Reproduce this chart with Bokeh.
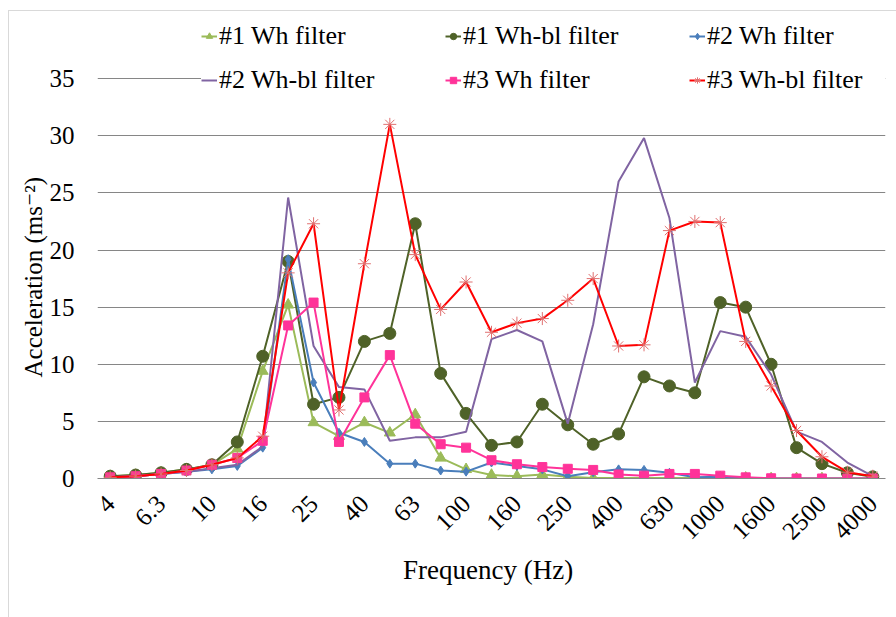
from bokeh.plotting import figure
from bokeh.models import Range1d, FixedTicker, Legend, LegendItem, Title
from bokeh.embed import file_html
from bokeh.resources import INLINE

freqs = ["4", "5", "6.3", "8", "10", "12.5", "16", "20", "25", "31.5", "40", "50", "63", "80",
         "100", "125", "160", "200", "250", "315", "400", "500", "630", "800", "1000", "1250",
         "1600", "2000", "2500", "3150", "4000"]

s1_wh = [0.2, 0.3, 0.5, 0.8, 1.2, 2.6, 9.4, 15.2, 4.9, 3.7, 4.9, 4.0, 5.6, 1.8, 0.8, 0.3, 0.2,
         0.35, 0.15, 0.05, 0.05, 0.05, 0.05, 0.05, 0.1, 0.05, 0.0, 0.0, 0.0, 0.0, 0.0]
s1_whbl = [0.2, 0.3, 0.5, 0.8, 1.2, 3.2, 10.7, 19.0, 6.5, 7.1, 12.0, 12.7, 22.3, 9.2, 5.7, 2.9,
           3.2, 6.5, 4.7, 3.0, 3.9, 8.9, 8.1, 7.5, 15.4, 15.0, 10.0, 2.7, 1.3, 0.5, 0.15]
s2_wh = [0.1, 0.2, 0.4, 0.6, 0.8, 1.1, 2.7, 19.2, 8.4, 4.0, 3.2, 1.3, 1.3, 0.7, 0.6, 1.4, 1.1,
         0.8, 0.2, 0.55, 0.8, 0.75, 0.5, 0.1, 0.15, 0.05, 0.02, 0.0, 0.0, 0.0, 0.0]
s2_whbl = [0.1, 0.2, 0.4, 0.6, 0.9, 1.2, 2.8, 24.6, 11.6, 8.0, 7.8, 3.3, 3.6, 3.6, 4.1, 12.2,
           13.0, 12.0, 4.8, 13.5, 26.0, 29.8, 22.8, 8.4, 12.9, 12.4, 9.1, 4.1, 3.2, 1.4, 0.2]
s3_wh = [0.1, 0.2, 0.4, 0.7, 1.2, 1.8, 3.3, 13.4, 15.4, 3.2, 7.1, 10.8, 4.8, 3.0, 2.7, 1.6, 1.25,
         1.0, 0.85, 0.75, 0.35, 0.25, 0.4, 0.4, 0.25, 0.1, 0.02, 0.0, 0.0, 0.0, 0.0]
s3_whbl = [0.1, 0.2, 0.4, 0.7, 1.2, 1.8, 3.7, 18.0, 22.3, 6.0, 18.8, 31.0, 19.6, 14.8, 17.2, 12.8,
           13.6, 14.0, 15.6, 17.5, 11.6, 11.7, 21.7, 22.5, 22.4, 12.0, 8.1, 4.2, 1.9, 0.55, 0.2]

y_ticks = [0, 5, 10, 15, 20, 25, 30, 35]
x_title = "Frequency  (Hz)"
y_title = "Acceleration  (ms\u207b\u00b2)"

FONT = "Liberation Serif, DejaVu Serif, serif"

pos = list(range(len(freqs)))
shown = [i for i in pos if i % 2 == 0]

p = figure(width=888, height=607, x_range=Range1d(-0.5, len(freqs) - 0.5),
           y_range=Range1d(0, 40.88), output_backend="svg", toolbar_location=None,
           min_border_left=88, min_border_right=12, min_border_top=0, min_border_bottom=140)
p.styles = {"margin-left": "8px", "margin-top": "10px",
            "border-left": "1px solid #d9d9d9", "border-top": "1px solid #d9d9d9"}
p.outline_line_color = None
p.background_fill_color = "white"
p.border_fill_color = "white"

p.xgrid.grid_line_color = None
p.ygrid.ticker = FixedTicker(ticks=y_ticks)
p.ygrid.grid_line_color = "#868686"
p.ygrid.grid_line_width = 1

p.yaxis.ticker = FixedTicker(ticks=y_ticks)
p.yaxis.axis_line_color = None
p.yaxis.major_tick_line_color = None
p.yaxis.minor_tick_line_color = None
p.yaxis.major_label_standoff = 17
p.yaxis.major_label_text_font = FONT
p.yaxis.major_label_text_font_size = "25px"
p.yaxis.major_label_text_color = "#000000"

p.xaxis.ticker = FixedTicker(ticks=shown)
p.xaxis.axis_line_color = "#868686"
p.xaxis.major_tick_line_color = None
p.xaxis.minor_tick_line_color = None
p.xaxis.major_label_orientation = 0.785398
p.xaxis.major_label_standoff = 15
p.xaxis.major_label_text_font = FONT
p.xaxis.major_label_text_font_size = "25px"
p.xaxis.major_label_text_color = "#000000"
p.xaxis.major_label_overrides = {i: freqs[i] for i in shown}
p.xaxis.axis_label = x_title
p.xaxis.axis_label_text_font = FONT
p.xaxis.axis_label_text_font_size = "27px"
p.xaxis.axis_label_text_font_style = "normal"
p.xaxis.axis_label_text_color = "#000000"
p.xaxis.axis_label_standoff = 5

ytitle = Title(text=y_title, align="left", offset=101, text_font=FONT,
               text_font_size="25px", text_font_style="normal", text_color="#000000",
               standoff=0)
p.add_layout(ytitle, "left")

items = []

def add(name, ys, color, marker, msize, mline=None, lw=2):
    rs = [p.line(pos, ys, line_color=color, line_width=lw)]
    if marker:
        rs.append(p.scatter(pos, ys, marker=marker, size=msize,
                            line_color=mline or color, fill_color=color, line_width=1))
    items.append(LegendItem(label=name, renderers=rs))

add("#1 Wh filter", s1_wh, "#9BBB59", "triangle", 11)
add("#1 Wh-bl filter", s1_whbl, "#4F6228", "circle", 12)
add("#2 Wh filter", s2_wh, "#4A7EBB", "diamond", 9)
add("#2 Wh-bl filter", s2_whbl, "#8064A2", None, 0)
add("#3 Wh filter", s3_wh, "#FF3399", "square", 9)
add("#3 Wh-bl filter", s3_whbl, "#FF0000", "asterisk", 13, mline="#E07070")

legend = Legend(items=items, orientation="horizontal", ncols=3,
                location=(104, 383), padding=4, margin=0, spacing=14,
                glyph_width=16, glyph_height=24, label_height=24, label_width=212,
                label_standoff=2, label_text_font=FONT, label_text_font_size="26px",
                label_text_color="#000000", background_fill_color="white",
                background_fill_alpha=1.0, border_line_color=None)
p.add_layout(legend, "center")

open("out.html", "w").write(file_html(p, INLINE))
